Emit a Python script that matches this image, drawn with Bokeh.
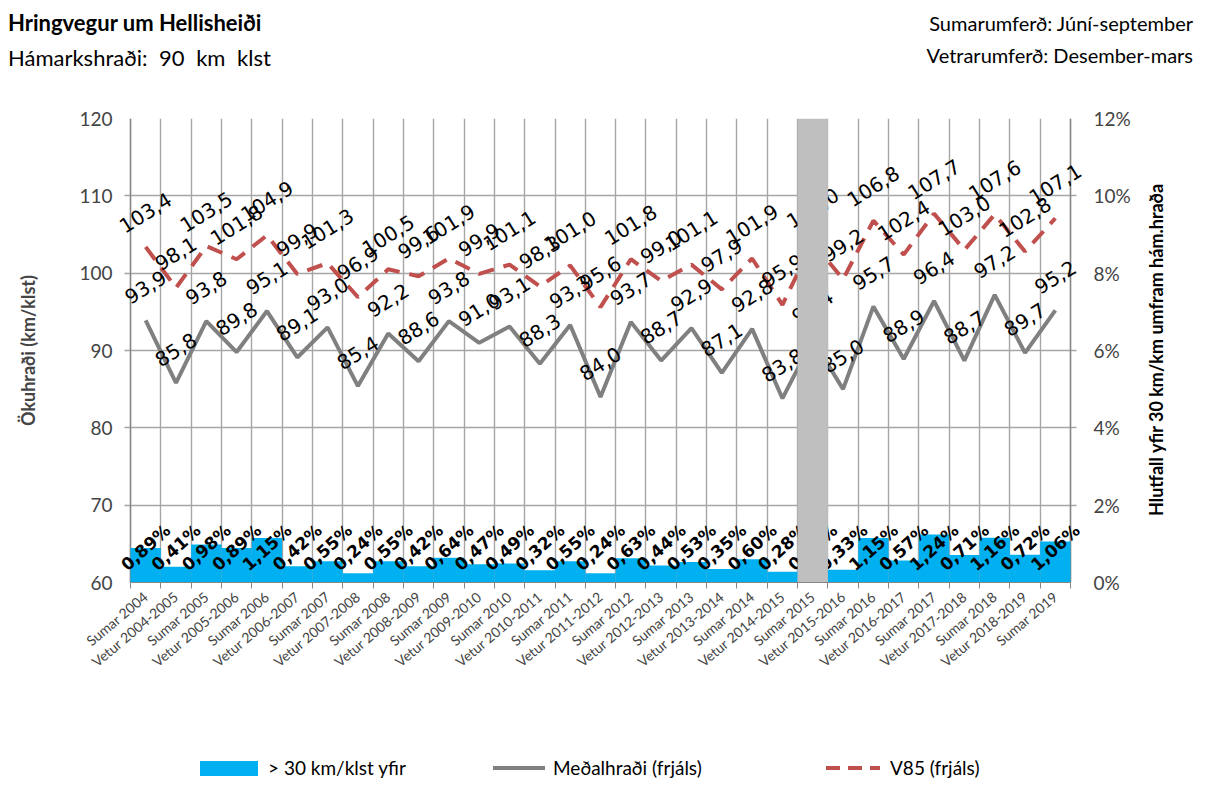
import math
import html
from bokeh.plotting import figure
from bokeh.layouts import column, row
from bokeh.models import (Range1d, LinearAxis, FixedTicker, PrintfTickFormatter, Div)
from bokeh.core.properties import value
from bokeh.embed import file_html
from bokeh.resources import INLINE

categories = ["Sumar 2004", "Vetur 2004-2005", "Sumar 2005", "Vetur 2005-2006",
              "Sumar 2006", "Vetur 2006-2007", "Sumar 2007", "Vetur 2007-2008",
              "Sumar 2008", "Vetur 2008-2009", "Sumar 2009", "Vetur 2009-2010",
              "Sumar 2010", "Vetur 2010-2011", "Sumar 2011", "Vetur 2011-2012",
              "Sumar 2012", "Vetur 2012-2013", "Sumar 2013", "Vetur 2013-2014",
              "Sumar 2014", "Vetur 2014-2015", "Sumar 2015", "Vetur 2015-2016",
              "Sumar 2016", "Vetur 2016-2017", "Sumar 2017", "Vetur 2017-2018",
              "Sumar 2018", "Vetur 2018-2019", "Sumar 2019"]
mean_speed = [93.9, 85.8, 93.8, 89.8, 95.1, 89.1, 93.0, 85.4, 92.2, 88.6,
              93.8, 91.0, 93.1, 88.3, 93.3, 84.0, 93.7, 88.7, 92.9, 87.1,
              92.8, 83.8, 91.4, 85.0, 95.7, 88.9, 96.4, 88.7, 97.2, 89.7, 95.2]
v85 = [103.4, 98.1, 103.5, 101.8, 104.9, 99.9, 101.3, 96.9, 100.5, 99.6,
       101.9, 99.9, 101.1, 98.3, 101.0, 95.6, 101.8, 99.0, 101.1, 97.9,
       101.9, 95.9, 104.0, 99.2, 106.8, 102.4, 107.7, 103.0, 107.6, 102.8, 107.1]
pct_over = [0.89, 0.41, 0.98, 0.89, 1.15, 0.42, 0.55, 0.24, 0.55, 0.42,
            0.64, 0.47, 0.49, 0.32, 0.55, 0.24, 0.63, 0.44, 0.53, 0.35,
            0.60, 0.28, 0.50, 0.33, 1.15, 0.57, 1.24, 0.71, 1.16, 0.72, 1.06]
no_data = ["Sumar 2015"]
left_ticks = [60, 70, 80, 90, 100, 110, 120]
right_ticks = [0, 2, 4, 6, 8, 10, 12]
series_names = ["> 30 km/klst yfir", "Meðalhraði (frjáls)", "V85 (frjáls)"]

FONT = "Lato"
LBL_FONT = "DejaVu Sans"
GRID = "#a6a6a6"
AX = "#868686"
BLUE, GRAY, RED = "#00b0f0", "#808080", "#c0504d"

W = 1215
HEAD_H = 80
FOOT_H = 67
MAIN_H = 787 - HEAD_H - FOOT_H          # 640
SIDE_W = 70
MAIN_W = W - SIDE_W                     # 1145
PL, PR, FT, FB = 130, 1070, 118, 582    # plot-area box on the page
FL, FR = 90, 1090                       # frame box (a little wider, so labels are not cut)
TICK = 6

n = len(categories)
xs = [i + 0.5 for i in range(n)]
ppu = (PR - PL) / n                     # pixels per category
x_start = -(PL - FL) / ppu
x_end = n + (FR - PR) / ppu


def span(text, top, left=None, right=None, size=20, bold=False, extra=""):
    pos = f"left:{left}px;" if left is not None else f"right:{right}px;"
    return (f'<span style="position:absolute;{pos}top:{top}px;'
            f'transform:translateY(-50%);font-family:{FONT};font-size:{size}px;'
            f'font-weight:{"bold" if bold else "normal"};white-space:nowrap;'
            f'line-height:1.2;color:#000;{extra}">{html.escape(text)}</span>')


# ---------- header ----------
head_html = ('<div style="position:relative;width:%dpx;height:%dpx;">' % (W, HEAD_H)
             + span("Hringvegur um Hellisheiði", 23, left=8, size=22, bold=True)
             + span("Hámarkshraði: 90 km klst", 58, left=8, size=22, extra="word-spacing:6px;")
             + span("Sumarumferð: Júní-september", 23, right=W - 1193, size=20)
             + span("Vetrarumferð: Desember-mars", 55, right=W - 1193, size=20)
             + '</div>')
head = Div(text=head_html, width=W, height=HEAD_H, margin=0)

# ---------- main chart ----------
p = figure(width=MAIN_W, height=MAIN_H, x_range=Range1d(x_start, x_end),
           y_range=Range1d(60, 120), output_backend="svg", toolbar_location=None,
           min_border_left=FL, min_border_right=MAIN_W - FR,
           min_border_top=FT - HEAD_H, min_border_bottom=MAIN_H - (FB - HEAD_H))
p.outline_line_color = None
p.background_fill_color = "white"
p.extra_y_ranges = {"pct": Range1d(0, 12)}

p.xgrid.ticker = FixedTicker(ticks=list(range(n + 1)))
p.ygrid.ticker = FixedTicker(ticks=left_ticks)
for g in (p.xgrid, p.ygrid):
    g.grid_line_color = GRID
    g.grid_line_width = 1.4

xa = p.xaxis[0]
xa.bounds = (0, n)
xa.ticker = FixedTicker(ticks=xs, minor_ticks=list(range(n + 1)))
xa.major_label_overrides = {x: c for x, c in zip(xs, categories)}
xa.major_tick_line_color = None
xa.major_tick_out = 4
xa.minor_tick_out = TICK
xa.minor_tick_in = 0
xa.minor_tick_line_color = AX
xa.axis_line_color = AX
xa.major_label_orientation = math.radians(40)
xa.major_label_text_font = FONT
xa.major_label_text_font_size = "14px"
xa.major_label_standoff = 6

# left axis sits at the frame edge; its labels are pulled in to the plot-area edge
ya = p.yaxis[0]
ya.ticker = FixedTicker(ticks=left_ticks)
ya.axis_line_color = None
ya.major_tick_line_color = None
ya.minor_tick_line_color = None
ya.major_tick_out = 0
ya.major_tick_in = 0
ya.major_label_text_font = FONT
ya.major_label_text_font_size = "19px"
ya.major_label_standoff = -(PL - FL - 18)
ya.axis_label = "Ökuhraði (km/klst)"
ya.axis_label_text_font = FONT
ya.axis_label_text_font_size = "18px"
ya.axis_label_text_font_style = "bold"
ya.axis_label_standoff = 37

ra = LinearAxis(y_range_name="pct", ticker=FixedTicker(ticks=right_ticks),
                formatter=PrintfTickFormatter(format="%d%%"))
ra.axis_line_color = None
ra.major_tick_line_color = None
ra.minor_tick_line_color = None
ra.major_tick_out = 0
ra.major_tick_in = 0
ra.major_label_text_font = FONT
ra.major_label_text_font_size = "19px"
ra.major_label_standoff = 3
p.add_layout(ra, "right")

# white masks outside the plot area (grid stubs of TICK px remain as tick marks)
tick_d = TICK / ppu
p.quad(left=[x_start, n + tick_d], right=[-tick_d, x_end], bottom=60, top=120,
       fill_color="white", line_color=None)
# axis lines at the plot-area edges
p.segment(x0=[0, n], x1=[0, n], y0=60, y1=120, line_color=AX, line_width=1.4)

bars = p.vbar(x=xs, top=pct_over, width=1.0, bottom=0, y_range_name="pct",
              fill_color=BLUE, line_color=None)
mean_r = p.line(xs, mean_speed, line_color=GRAY, line_width=4)
v85_r = p.line(xs, v85, line_color=RED, line_width=4, line_dash="16 10")


def fmt1(v):
    return f"{v:.1f}".replace(".", ",")


p.text(x=xs, y=[0] * n, text=[f"{v:.2f}%".replace(".", ",") for v in pct_over],
       y_range_name="pct", angle=math.radians(42), text_align="center",
       text_baseline="middle", y_offset=-35, text_font=value(LBL_FONT),
       text_font_size="17px", text_font_style="bold", text_color="black")
p.text(x=xs, y=mean_speed, text=[fmt1(v) for v in mean_speed],
       angle=math.radians(32), text_align="center", text_baseline="middle",
       y_offset=-33, text_font=value(LBL_FONT), text_font_size="20px",
       text_color="black")
p.text(x=xs, y=v85, text=[fmt1(v) for v in v85],
       angle=math.radians(32), text_align="center", text_baseline="middle",
       y_offset=-34, text_font=value(LBL_FONT), text_font_size="20px",
       text_color="black")

p.vbar(x=[xs[categories.index(c)] for c in no_data], top=12, bottom=0, width=1.0,
       y_range_name="pct", fill_color="#bfbfbf", line_color=None)

# ---------- right axis title ----------
side_html = ('<div style="position:relative;width:%dpx;height:%dpx;">' % (SIDE_W, MAIN_H)
             + '<span style="position:absolute;left:%dpx;top:%dpx;'
               'transform:translate(-50%%,-50%%) rotate(-90deg);font-family:%s;'
               'font-size:18px;font-weight:bold;white-space:nowrap;color:#000;">%s</span>'
             % (1157 - MAIN_W, 350 - HEAD_H, FONT,
                html.escape("Hlutfall yfir 30 km/km umfram hám.hraða"))
             + '</div>')
side = Div(text=side_html, width=SIDE_W, height=MAIN_H, margin=0)

# ---------- legend ----------
cy = 768 - (787 - FOOT_H)


def key(left, width, height, bg):
    return (f'<div style="position:absolute;left:{left}px;top:{cy - height / 2}px;'
            f'width:{width}px;height:{height}px;background:{bg};"></div>')


foot_html = ('<div style="position:relative;width:%dpx;height:%dpx;">' % (W, FOOT_H)
             + key(200, 58, 15, BLUE) + span(series_names[0], cy, left=268, size=19)
             + key(493, 52, 4, GRAY) + span(series_names[1], cy, left=553, size=19)
             + key(826, 54, 4, f"repeating-linear-gradient(to right,{RED} 0 14px,"
                   f"transparent 14px 22px)")
             + span(series_names[2], cy, left=890, size=19)
             + '</div>')
foot = Div(text=foot_html, width=W, height=FOOT_H, margin=0)

layout = column(head, row(p, side, spacing=0), foot, spacing=0)
open("out.html", "w").write(file_html(layout, INLINE))
